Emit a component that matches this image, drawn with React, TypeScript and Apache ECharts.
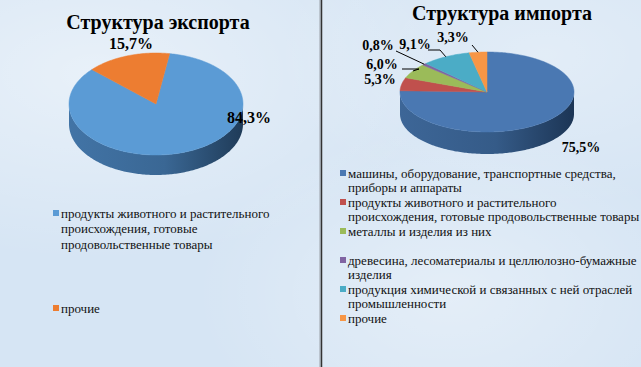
import React, { useEffect, useRef } from "react";
import * as echarts from "echarts";

// ---- data ----
const exportTitle = "Структура экспорта";
const importTitle = "Структура импорта";
const exportCategories = [
  "продукты животного и растительного\nпроисхождения, готовые\nпродовольственные товары",
  "прочие",
];
const exportValues = [84.3, 15.7];
const importCategories = [
  "машины, оборудование, транспортные средства,\nприборы и аппараты",
  "продукты животного и растительного\nпроисхождения, готовые продовольственные товары",
  "металлы и изделия из них",
  "древесина, лесоматериалы и целлюлозно-бумажные\nизделия",
  "продукция химической и связанных с ней отраслей\nпромышленности",
  "прочие",
];
const importValues = [75.5, 5.3, 6.0, 0.8, 9.1, 3.3];

// ---- styles / layout ----
const exportColors = ["#5b9bd5", "#ed7d31"];
const exportSide = [["#4274a6", "#3a6794", "#1f3b58"], ["#b45f22", "#a5561f", "#6e3810"]];
const importColors = ["#4a78b2", "#c0504d", "#9bbb59", "#8064a2", "#4bacc6", "#f79646"];
const importSide = [["#3d6697", "#355b88", "#1c3555"], ["#923c3a", "#853634", "#5a2322"], ["#769043", "#6b833c", "#475828"], ["#614b7c", "#584470", "#3a2d4b"], ["#3a8498", "#34788b", "#22505d"], ["#bd7133", "#ad672f", "#76451f"]];

const exportGeom = { cx: 156, cy: 104, rx: 87, ry: 51, depth: 20, start: 81 };
const importGeom = { cx: 487, cy: 92, rx: 87, ry: 40, depth: 22, start: 90 };

const exportLabelPos = [[249, 117], [131, 43]];
const importLabelPos = [[581, 147], [380, 79], [382, 64], [378, 45], [415, 44], [453, 37]];
const importLeaders: (number[][] | null)[] = [null, null, [[402, 69], [419, 69]], [[396, 51]], [[428, 50], [440, 50]], [[472, 45]]];

const SERIF = "'Liberation Serif', 'Times New Roman', 'DejaVu Serif', serif";

function fmt(v: number) {
  return v.toFixed(1).replace(".", ",") + "%";
}

function txt(text: string, size: number, weight: string, align: string) {
  return {
    text,
    fill: "#000",
    fontFamily: SERIF,
    fontSize: size,
    fontWeight: weight,
    align,
    verticalAlign: "middle",
    textAlign: align,
    textVerticalAlign: "middle",
  };
}

function makeRender(values: number[], geom: any, colors: string[], sides: string[][], labelPos: number[][], leaders: (number[][] | null)[], fontSize: number) {
  const total = values.reduce((a, b) => a + b, 0);
  const pt = (deg: number, dy = 0) => {
    const t = (deg * Math.PI) / 180;
    return [geom.cx + geom.rx * Math.cos(t), geom.cy - geom.ry * Math.sin(t) + dy];
  };
  return (params: any, api: any) => {
    const i = params.dataIndex;
    const v = api.value(0);
    let before = 0;
    for (let k = 0; k < i; k++) before += values[k];
    const a0 = geom.start - (before / total) * 360;
    const a1 = a0 - (v / total) * 360;
    const steps = Math.max(2, Math.ceil(a0 - a1));
    const angles: number[] = [];
    for (let s = 0; s <= steps; s++) angles.push(a0 - ((a0 - a1) * s) / steps);
    const children: any[] = [];
    let run: number[] = [];
    const runs: number[][] = [];
    angles.forEach((a) => {
      if (Math.sin((a * Math.PI) / 180) <= 0.001) run.push(a);
      else {
        if (run.length > 1) runs.push(run);
        run = [];
      }
    });
    if (run.length > 1) runs.push(run);
    runs.forEach((r) => {
      const top = r.map((a) => pt(a));
      const bot = r.map((a) => pt(a, geom.depth)).reverse();
      children.push({
        type: "polygon",
        shape: { points: top.concat(bot) },
        style: {
          fill: new echarts.graphic.LinearGradient(0, 0, 1, 0, [
            { offset: 0, color: sides[i][0] },
            { offset: 0.55, color: sides[i][1] },
            { offset: 1, color: sides[i][2] },
          ]),
        },
      });
    });
    const topPts = [[geom.cx, geom.cy]].concat(angles.map((a) => pt(a)));
    children.push({
      type: "polygon",
      shape: { points: topPts },
      style: { fill: colors[i], stroke: colors[i], lineWidth: 0.5 },
    });
    const lp = labelPos[i];
    const ld = leaders[i];
    if (ld) {
      const mid = pt((a0 + a1) / 2);
      children.push({
        type: "polyline",
        shape: { points: ld.concat([mid]) },
        style: { stroke: "#000", lineWidth: 1, fill: null },
      });
    }
    children.push({ type: "text", x: lp[0], y: lp[1], style: txt(fmt(v), fontSize, "bold", "center") });
    return { type: "group", children };
  };
}

function legendGraphics(cats: string[], colors: string[], x: number, ys: number[], lineH: number) {
  const els: any[] = [];
  cats.forEach((c, i) => {
    els.push({ type: "rect", shape: { x: x, y: ys[i] - 3, width: 6, height: 6 }, style: { fill: colors[i] } });
    c.split("\n").forEach((line, k) => {
      els.push({
        type: "text",
        x: x + 8,
        y: ys[i] + k * lineH,
        style: { ...txt(line, 13, "normal", "left"), fill: "#111" },
      });
    });
  });
  return els;
}

export default function App() {
  const ref = useRef<HTMLDivElement>(null);
  useEffect(() => {
    document.body.style.margin = "0";
    const chart = echarts.init(ref.current!, undefined, { renderer: "svg" });
    const importYs = importCategories.map((_, i) => 173 + i * 29);
    chart.setOption({
      animation: false,
      backgroundColor: "transparent",
      series: [
        {
          type: "custom",
          coordinateSystem: "none",
          silent: true,
          data: exportValues.map((v) => [v]),
          renderItem: makeRender(exportValues, exportGeom, exportColors, exportSide, exportLabelPos, [null, null], 16),
        },
        {
          type: "custom",
          coordinateSystem: "none",
          silent: true,
          data: importValues.map((v) => [v]),
          renderItem: makeRender(importValues, importGeom, importColors, importSide, importLabelPos, importLeaders, 14),
        },
      ],
      graphic: [
        { type: "line", shape: { x1: 320, y1: 0, x2: 320, y2: 367 }, style: { stroke: "#9aa0a8", lineWidth: 1 } },
        { type: "line", shape: { x1: 321.5, y1: 0, x2: 321.5, y2: 367 }, style: { stroke: "#333", lineWidth: 1.5 } },
        { type: "text", x: 158, y: 22, style: txt(exportTitle, 20, "bold", "center") },
        { type: "text", x: 502, y: 13, style: txt(importTitle, 20, "bold", "center") },
        ...legendGraphics(exportCategories, exportColors, 53, [213, 308], 15.5),
        ...legendGraphics(importCategories, importColors, 340, importYs, 14.5),
      ],
    });
    return () => chart.dispose();
  }, []);
  return (
    <div
      style={{
        position: "fixed",
        left: 0,
        top: 0,
        width: 641,
        height: 367,
        background:
          "radial-gradient(ellipse at 15% 20%, rgba(255,255,255,0.45), rgba(255,255,255,0) 45%), radial-gradient(ellipse at 70% 80%, rgba(255,255,255,0.35), rgba(255,255,255,0) 40%), radial-gradient(ellipse at 85% 15%, rgba(255,255,255,0.3), rgba(255,255,255,0) 35%), #d6e5f4",
      }}
    >
      <div ref={ref} style={{ width: 641, height: 367 }} />
    </div>
  );
}
